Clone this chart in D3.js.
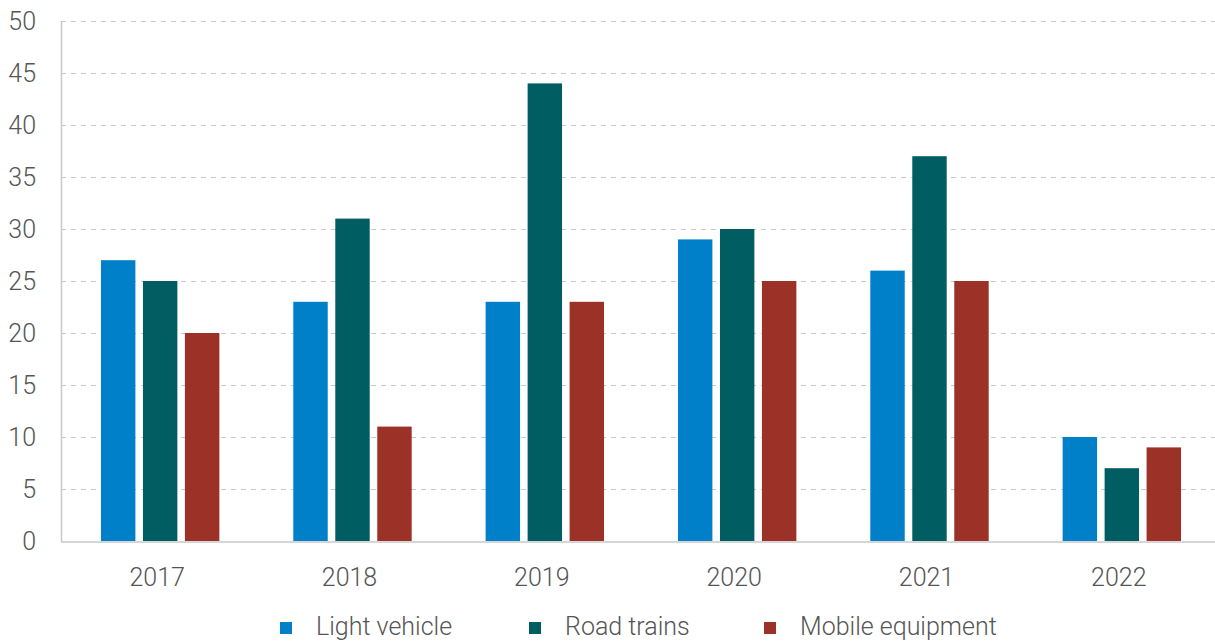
<!DOCTYPE html>
<html>
<head>
<meta charset="utf-8">
<script src="https://cdn.jsdelivr.net/npm/d3@7"></script>
<style>
  body { margin: 0; background: #fff; }
  svg { display: block; font-family: Roboto, sans-serif; font-weight: 300; }
</style>
</head>
<body>
<div class="container"></div>
<script>
const width = 1215;
const height = 641;
const margin = { top: 21, right: 0, bottom: 100, left: 61 };

const years = ['2017', '2018', '2019', '2020', '2021', '2022'];
const series = ['Light vehicle', 'Road trains', 'Mobile equipment'];
const colors = ['#0080c9', '#005d61', '#9c3127'];
const lightVehicle = [27, 23, 23, 29, 26, 10];
const roadTrains = [25, 31, 44, 30, 37, 7];
const mobileEquipment = [20, 11, 23, 25, 25, 9];
const yTicks = [0, 5, 10, 15, 20, 25, 30, 35, 40, 45, 50];

const values = [lightVehicle, roadTrains, mobileEquipment];
const rows = years.map((year, i) => ({
    year,
    vals: series.map((s, k) => ({ key: s, value: values[k][i] }))
}));

const svg = d3.select('.container')
    .append('svg')
    .attr('width', width)
    .attr('height', height);

const x = d3.scaleBand()
    .domain(years)
    .range([margin.left, width - margin.right]);

const bw = x.bandwidth();
const x1 = d3.scaleBand()
    .domain(series)
    .range([bw * 40 / 192.5, bw * 158.5 / 192.5])
    .paddingInner(0.18);

const y = d3.scaleLinear()
    .domain([0, 50])
    .range([height - margin.bottom, margin.top]);

// gridlines
svg.append('g')
    .selectAll('line')
    .data(yTicks.filter(d => d > 0))
    .join('line')
    .attr('x1', margin.left)
    .attr('x2', width - margin.right)
    .attr('y1', d => Math.round(y(d)) + 0.5)
    .attr('y2', d => Math.round(y(d)) + 0.5)
    .attr('stroke', '#c8c8c8')
    .attr('stroke-width', 1)
    .attr('stroke-dasharray', '5,5');

// bars
svg.append('g')
    .selectAll('g')
    .data(rows)
    .join('g')
    .attr('transform', d => `translate(${x(d.year)},0)`)
    .selectAll('rect')
    .data(d => d.vals)
    .join('rect')
    .attr('x', d => x1(d.key))
    .attr('width', x1.bandwidth())
    .attr('y', d => y(d.value))
    .attr('height', d => y(0) - y(d.value))
    .attr('fill', (d, i) => colors[i]);

// axes lines
svg.append('line')
    .attr('x1', margin.left + 0.5).attr('x2', margin.left + 0.5)
    .attr('y1', margin.top).attr('y2', y(0) + 1)
    .attr('stroke', '#c8c8c8').attr('stroke-width', 1.5);
svg.append('line')
    .attr('x1', margin.left).attr('x2', width - margin.right)
    .attr('y1', y(0) + 1).attr('y2', y(0) + 1)
    .attr('stroke', '#c8c8c8').attr('stroke-width', 1.5);

// y labels
const yAxis = d3.axisLeft(y).tickValues(yTicks).tickSize(0).tickPadding(0);
const yg = svg.append('g')
    .attr('transform', `translate(${margin.left - 25},0)`)
    .call(yAxis);
yg.select('.domain').remove();
yg.selectAll('text')
    .attr('font-family', 'Roboto, sans-serif')
    .attr('font-size', 25)
    .attr('fill', '#555');

// x labels
const xAxis = d3.axisBottom(x).tickSize(0).tickPadding(0);
const xg = svg.append('g')
    .attr('transform', `translate(0,${y(0) + 27})`)
    .call(xAxis);
xg.select('.domain').remove();
xg.selectAll('text')
    .attr('font-family', 'Roboto, sans-serif')
    .attr('font-size', 25)
    .attr('fill', '#555');

// legend
const legendX = [280, 529, 764];
const legend = svg.append('g')
    .selectAll('g')
    .data(series)
    .join('g')
    .attr('transform', (d, i) => `translate(${legendX[i]},627)`);
legend.append('rect')
    .attr('x', 0).attr('y', -5)
    .attr('width', 12).attr('height', 12)
    .attr('fill', (d, i) => colors[i]);
legend.append('text')
    .attr('x', 36)
    .attr('y', 8)
    .attr('font-size', 25)
    .attr('fill', '#555')
    .text(d => d);
</script>
</body>
</html>
